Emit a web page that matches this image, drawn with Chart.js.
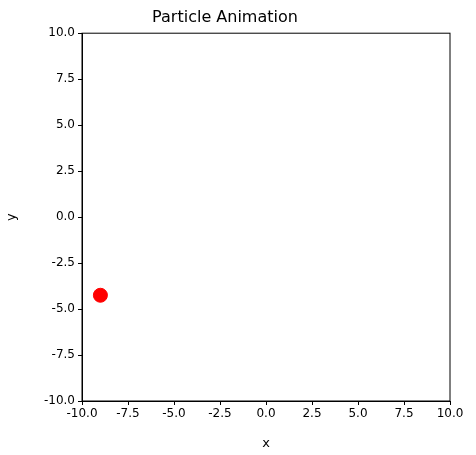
<!DOCTYPE html>
<html><head><script src="https://cdn.jsdelivr.net/npm/chart.js"></script>
<style>body{margin:0;background:#fff}#w{width:476px;height:455px}</style></head>
<body><div id="w"><canvas id="c"></canvas></div>
<script>
const xs=[-9.0];
const ys=[-4.25];
const ticks=[-10,-7.5,-5,-2.5,0,2.5,5,7.5,10];
const frame={id:'frame',afterDraw(c){const a=c.chartArea,g=c.ctx;g.save();g.strokeStyle='#000';g.lineWidth=1;g.strokeRect(a.left,a.top,a.right-a.left,a.bottom-a.top);g.restore();}};
Chart.defaults.font.family='DejaVu Sans';
Chart.defaults.color='#000';
new Chart(document.getElementById('c'),{type:'scatter',
data:{datasets:[{data:xs.map((x,i)=>({x,y:ys[i]})),backgroundColor:'#ff0000',borderColor:'#ff0000',pointRadius:7}]},
options:{responsive:true,maintainAspectRatio:false,animation:false,
layout:{padding:{left:0,right:26,top:3,bottom:0}},
plugins:{legend:{display:false},tooltip:{enabled:false},
title:{display:true,text:'Particle Animation',font:{size:16,weight:'normal'},padding:{top:5,bottom:6}}},
scales:{
x:{type:'linear',min:-10,max:10,afterBuildTicks:a=>{a.ticks=ticks.map(v=>({value:v}))},afterFit:s=>{s.height=54},
ticks:{font:{size:12},callback:v=>v.toFixed(1),maxRotation:0,padding:2},
grid:{drawOnChartArea:false,color:'#000',tickLength:4},border:{color:'#000'},
title:{display:true,text:'x',font:{size:13},padding:{top:2}}},
y:{type:'linear',min:-10,max:10,afterBuildTicks:a=>{a.ticks=ticks.map(v=>({value:v}))},afterFit:s=>{s.width=82},
ticks:{font:{size:12},callback:v=>v.toFixed(1),padding:3},
grid:{drawOnChartArea:false,color:'#000',tickLength:4},border:{color:'#000'},
title:{display:true,text:'y',font:{size:13},padding:{bottom:2}}}}},
plugins:[frame]});
</script></body></html>
